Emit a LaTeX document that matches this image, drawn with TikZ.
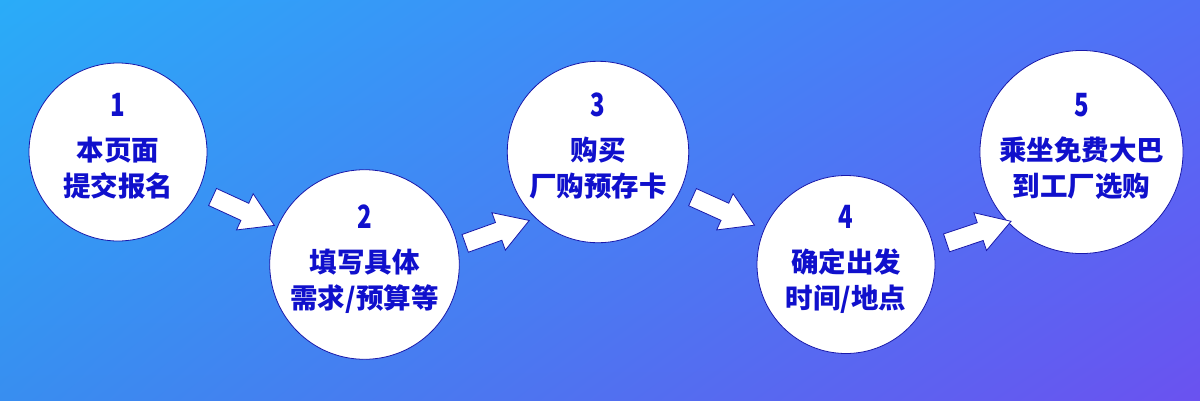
\documentclass[tikz,border=0pt]{standalone}
\usepackage{fontspec}
\usepackage{graphicx}
\newfontfamily\cjk{Noto Sans CJK SC}
\usetikzlibrary{shapes.arrows,shadings}

\definecolor{bgtl}{RGB}{42,172,248}
\definecolor{bgtr}{RGB}{80,112,246}
\definecolor{bgbl}{RGB}{56,142,240}
\definecolor{bgbr}{RGB}{106,82,240}
\definecolor{textblue}{RGB}{16,16,204}
\definecolor{edgeblue}{RGB}{24,24,170}

\newcommand{\stepnum}[1]{\scalebox{0.75}[1]{\fontsize{32}{32}\selectfont #1}}
\newcommand{\lowstrut}{\rule[-15pt]{0pt}{15pt}}

\tikzset{
  stepcircle/.style={circle, draw=edgeblue, line width=0.8pt, fill=white,
    minimum size=178pt, inner sep=0pt, align=center, text=textblue,
    font=\cjk\bfseries\fontsize{27.5}{36}\selectfont},
  arrowbox/.style={single arrow, draw=edgeblue, line width=0.8pt, fill=white,
    minimum height=68pt, inner xsep=0pt, inner ysep=9pt,
    single arrow head extend=10.5pt, single arrow tip angle=63}
}

\begin{document}
\begin{tikzpicture}[x=1pt,y=-1pt]
    \useasboundingbox (0,0) rectangle (1200,400);
    \shade[upper left=bgtl, upper right=bgtr, lower left=bgbl, lower right=bgbr] (0,0) rectangle (1200,400);

    % steps
    \node[stepcircle] (one)   at (118,152)   {\stepnum{1}\\[8pt]本页面\\提交报名\lowstrut};
    \node[stepcircle] (two)   at (364.5,264.5) {\stepnum{2}\\[8pt]填写具体\\需求/预算等\lowstrut};
    \node[stepcircle] (three) at (598,152)   {\stepnum{3}\\[8pt]购买\\厂购预存卡\lowstrut};
    \node[stepcircle] (four)  at (846,264.5) {\stepnum{4}\\[8pt]确定出发\\时间/地点\lowstrut};
    \node[stepcircle] (five)  at (1081.5,152) {\stepnum{5}\\[8pt]乘坐免费大巴\\到工厂选购\lowstrut};

    % arrows between steps
    \node[arrowbox, rotate=-24.7] (onetwo)    at (236.5,208) {};
    \node[arrowbox, rotate=19.7]  (twothree)  at (490,234.5) {};
    \node[arrowbox, rotate=-24.3] (threefour) at (716.5,208) {};
    \node[arrowbox, rotate=18.5]  (fourfive)  at (971.5,234.5) {};
\end{tikzpicture}
\end{document}
